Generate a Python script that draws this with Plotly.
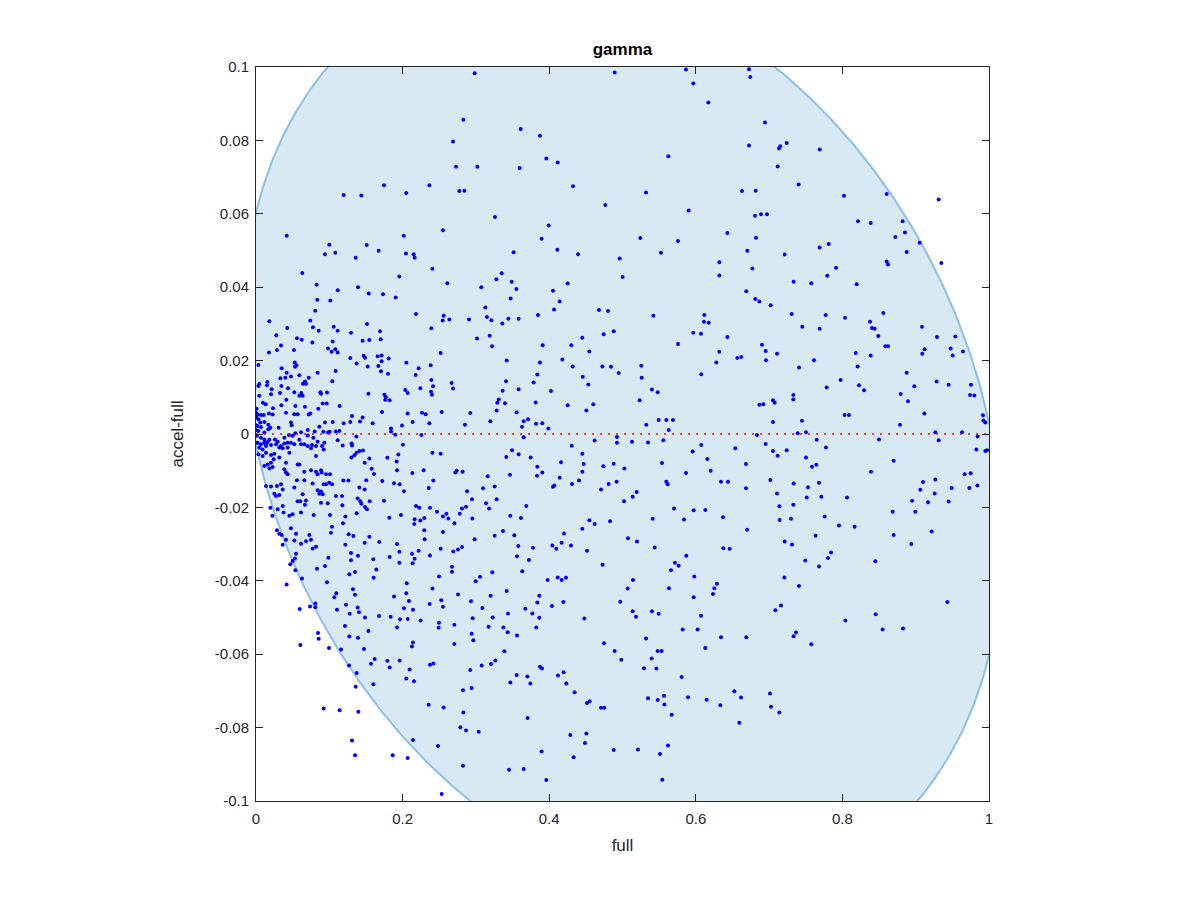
import numpy as np
import plotly.graph_objects as go

# ---- data: (full, accel-full) pairs, grouped by region ----
top_left = [
    (0.1746, 0.0678), (0.1196, 0.0651), (0.1437, 0.0650), (0.2050, 0.0657), (0.0419, 0.0540),
    (0.2015, 0.0540), (0.1000, 0.0516), (0.1510, 0.0515), (0.0941, 0.0490), (0.1082, 0.0494),
    (0.1674, 0.0499), (0.1360, 0.0480), (0.2046, 0.0492), (0.2151, 0.0490), (0.2165, 0.0480),
    (0.0632, 0.0439), (0.1955, 0.0429), (0.0828, 0.0407), (0.1115, 0.0392), (0.1392, 0.0400),
    (0.1538, 0.0383), (0.1733, 0.0381), (0.1906, 0.0372), (0.0836, 0.0366), (0.1014, 0.0364),
]
dense_upper = [
    (0.0809, 0.0336), (0.0182, 0.0307), (0.0741, 0.0309), (0.0778, 0.0291), (0.0855, 0.0281),
    (0.1060, 0.0292), (0.1114, 0.0281), (0.0427, 0.0289), (0.0277, 0.0269), (0.0559, 0.0261),
    (0.0623, 0.0257), (0.0341, 0.0241), (0.0518, 0.0229), (0.0177, 0.0222), (0.0286, 0.0229),
    (0.0769, 0.0249), (0.1046, 0.0252), (0.0982, 0.0233), (0.1032, 0.0224), (0.1114, 0.0222),
    (0.1082, 0.0231), (0.0032, 0.0188), (0.0528, 0.0195), (0.0550, 0.0187), (0.0532, 0.0183),
    (0.0350, 0.0179), (0.0418, 0.0167), (0.0400, 0.0153), (0.0332, 0.0152), (0.0477, 0.0157),
    (0.0591, 0.0160), (0.0719, 0.0153), (0.0668, 0.0143), (0.0641, 0.0137), (0.0682, 0.0137),
    (0.0841, 0.0167), (0.1087, 0.0172), (0.1041, 0.0144), (0.0155, 0.0142), (0.0045, 0.0136),
    (0.0032, 0.0131), (0.0150, 0.0133), (0.0214, 0.0122), (0.0346, 0.0131), (0.0437, 0.0125),
    (0.0523, 0.0114), (0.0205, 0.0108), (0.0327, 0.0112), (0.0618, 0.0112), (0.0637, 0.0104),
    (0.0591, 0.0104), (0.0878, 0.0114), (0.0887, 0.0110), (0.0969, 0.0113), (0.0045, 0.0104),
    (0.0414, 0.0093), (0.0095, 0.0085), (0.0132, 0.0081), (0.0009, 0.0069), (0.0232, 0.0070),
    (0.0346, 0.0078), (0.0537, 0.0076), (0.0668, 0.0074), (0.0910, 0.0083), (0.0964, 0.0083),
    (0.1141, 0.0076), (0.0000, 0.0058), (0.0023, 0.0053), (0.0068, 0.0052), (0.0105, 0.0052),
    (0.0177, 0.0056), (0.0227, 0.0053), (0.0005, 0.0045), (0.0032, 0.0040), (0.0409, 0.0058),
    (0.0523, 0.0054), (0.0568, 0.0054), (0.0719, 0.0053), (0.0741, 0.0056), (0.0850, 0.0069),
    (0.0059, 0.0031), (0.0114, 0.0033), (0.0477, 0.0031), (0.0487, 0.0024), (0.0309, 0.0017),
    (0.0000, 0.0024), (0.0023, 0.0022), (0.0068, 0.0019), (0.0168, 0.0025), (0.0000, 0.0011),
    (0.0032, 0.0008), (0.0114, 0.0004), (0.0168, 0.0013), (0.0196, 0.0017), (0.1046, 0.0033),
    (0.0941, 0.0031), (0.0864, 0.0020), (0.0705, 0.0011), (0.0800, 0.0007), (0.0614, 0.0005),
    (0.0537, 0.0002), (0.0450, -0.0003), (0.0919, 0.0006), (0.0982, 0.0004), (0.1005, 0.0006),
    (0.1087, 0.0007), (0.1137, 0.0008), (0.0014, -0.0005), (0.0068, -0.0010), (0.0114, -0.0015),
    (0.0182, -0.0016), (0.0259, -0.0015), (0.0296, -0.0021), (0.0387, -0.0010), (0.0500, -0.0005),
    (0.0432, -0.0024), (0.0523, -0.0028), (0.0591, -0.0016), (0.0782, -0.0010), (0.0705, -0.0004),
    (0.0841, -0.0021), (0.0659, -0.0028), (0.0932, -0.0024), (0.1114, -0.0017), (0.0764, -0.0030),
    (0.0136, -0.0028), (0.0000, -0.0024),
]
dense_lower = [
    (0.0023, -0.0024), (0.0068, -0.0028), (0.0114, -0.0024), (0.0159, -0.0022), (0.0045, -0.0037),
    (0.0091, -0.0042), (0.0136, -0.0033), (0.0205, -0.0030), (0.0273, -0.0028), (0.0341, -0.0033),
    (0.0387, -0.0026), (0.0477, -0.0024), (0.0614, -0.0028), (0.0705, -0.0033), (0.0750, -0.0039),
    (0.0819, -0.0033), (0.0900, -0.0033), (0.0923, -0.0042), (0.0819, -0.0060), (0.0032, -0.0055),
    (0.0091, -0.0060), (0.0136, -0.0051), (0.0205, -0.0057), (0.0250, -0.0054), (0.0318, -0.0037),
    (0.0364, -0.0039), (0.0432, -0.0037), (0.0455, -0.0051), (0.0318, -0.0064), (0.0114, -0.0087),
    (0.0159, -0.0083), (0.0205, -0.0078), (0.0227, -0.0090), (0.0182, -0.0094), (0.0241, -0.0069),
    (0.0409, -0.0078), (0.0568, -0.0083), (0.0591, -0.0083), (0.0387, -0.0096), (0.0409, -0.0105),
    (0.0432, -0.0110), (0.0659, -0.0103), (0.0750, -0.0099), (0.0819, -0.0103), (0.0841, -0.0110),
    (0.0887, -0.0099), (0.0896, -0.0105), (0.0955, -0.0110), (0.1010, -0.0110), (0.0559, -0.0126),
    (0.0773, -0.0135), (0.0659, -0.0126), (0.0923, -0.0137), (0.0955, -0.0137), (0.1000, -0.0133),
    (0.1037, -0.0137), (0.0136, -0.0142), (0.0205, -0.0143), (0.0286, -0.0142), (0.0341, -0.0137),
    (0.0364, -0.0151), (0.0523, -0.0146), (0.0250, -0.0163), (0.0273, -0.0169), (0.0318, -0.0166),
    (0.0841, -0.0153), (0.0864, -0.0163), (0.0910, -0.0164), (0.0887, -0.0157), (0.1091, -0.0169),
    (0.0637, -0.0164), (0.0568, -0.0183), (0.0605, -0.0183), (0.0682, -0.0181), (0.0668, -0.0193),
    (0.0887, -0.0187), (0.0978, -0.0189), (0.0196, -0.0201), (0.0296, -0.0205), (0.0364, -0.0196),
    (0.0377, -0.0214), (0.0500, -0.0219), (0.0455, -0.0223), (0.0614, -0.0214), (0.0787, -0.0221),
    (0.1010, -0.0221), (0.0223, -0.0223), (0.1037, -0.0253), (0.1023, -0.0269), (0.0477, -0.0257),
    (0.0286, -0.0262), (0.0318, -0.0272), (0.0350, -0.0275), (0.0546, -0.0272), (0.0682, -0.0292),
    (0.0614, -0.0299), (0.0750, -0.0288), (0.0728, -0.0275), (0.0409, -0.0288), (0.0523, -0.0290),
    (0.0364, -0.0302), (0.0819, -0.0307), (0.0773, -0.0312), (0.0546, -0.0326), (0.0532, -0.0339),
    (0.0500, -0.0346), (0.0468, -0.0355), (0.0987, -0.0337), (0.0832, -0.0367), (0.0941, -0.0360),
]
left_middle = [
    (0.2183, 0.0327), (0.1296, 0.0276), (0.1514, 0.0300), (0.1692, 0.0280), (0.1455, 0.0254),
    (0.1546, 0.0256), (0.1701, 0.0258), (0.1287, 0.0207), (0.1373, 0.0192), (0.1469, 0.0213),
    (0.1487, 0.0208), (0.1523, 0.0184), (0.1660, 0.0212), (0.1714, 0.0214), (0.1669, 0.0185),
    (0.1714, 0.0198), (0.1705, 0.0171), (0.1810, 0.0206), (0.1801, 0.0164), (0.2051, 0.0194),
    (0.2219, 0.0179), (0.2178, 0.0161), (0.2242, 0.0125), (0.1533, 0.0110), (0.1751, 0.0107),
    (0.1773, 0.0100), (0.1764, 0.0093), (0.1823, 0.0092), (0.2037, 0.0120), (0.2069, 0.0112),
    (0.1310, 0.0049), (0.1455, 0.0045), (0.1196, 0.0029), (0.1287, 0.0033), (0.1419, 0.0034),
    (0.1592, 0.0029), (0.1719, 0.0060), (0.2069, 0.0056), (0.2137, 0.0033), (0.2265, 0.0058),
    (0.1992, 0.0023), (0.1842, 0.0015), (0.1842, 0.0007), (0.1369, -0.0007), (0.1901, -0.0002),
    (0.2256, -0.0003), (0.1182, -0.0031), (0.1305, -0.0026), (0.1310, -0.0031), (0.2005, -0.0029),
    (0.1301, -0.0064), (0.1342, -0.0058), (0.1373, -0.0051), (0.1410, -0.0046), (0.1460, -0.0045),
    (0.1483, -0.0078), (0.1546, -0.0067), (0.1578, -0.0095), (0.1610, -0.0109), (0.1792, -0.0065),
    (0.1919, -0.0075), (0.1942, -0.0056), (0.1924, -0.0099), (0.2133, -0.0106), (0.2287, -0.0099),
    (0.1191, -0.0127), (0.1260, -0.0127), (0.1505, -0.0126), (0.1723, -0.0128), (0.1883, -0.0134),
    (0.1960, -0.0137), (0.2019, -0.0156), (0.1410, -0.0146), (0.1483, -0.0151), (0.1173, -0.0169),
    (0.1387, -0.0176), (0.1423, -0.0183), (0.1437, -0.0190), (0.1487, -0.0199), (0.1514, -0.0205),
    (0.1551, -0.0183), (0.1746, -0.0182), (0.1178, -0.0194), (0.2183, -0.0196), (0.2228, -0.0201),
    (0.1373, -0.0216), (0.1819, -0.0228), (0.1978, -0.0221), (0.2164, -0.0232), (0.2160, -0.0245),
    (0.2242, -0.0236), (0.2296, -0.0229), (0.1219, -0.0225), (0.1187, -0.0243), (0.1264, -0.0273),
    (0.1328, -0.0278), (0.1546, -0.0280), (0.1682, -0.0294), (0.1219, -0.0302), (0.1483, -0.0296),
    (0.1924, -0.0300), (0.2219, -0.0318), (0.2296, -0.0262), (0.1296, -0.0324), (0.1296, -0.0344),
    (0.1392, -0.0332), (0.1601, -0.0341), (0.1823, -0.0335), (0.1956, -0.0321), (0.1956, -0.0351),
    (0.2128, -0.0326), (0.2164, -0.0340), (0.2137, -0.0352), (0.1641, -0.0369), (0.1351, -0.0376),
    (0.1273, -0.0382),
]
bottom_left = [
    (0.0537, -0.0371), (0.1605, -0.0392), (0.0628, -0.0394), (0.0969, -0.0404), (0.0418, -0.0410),
    (0.2056, -0.0407), (0.1323, -0.0423), (0.1096, -0.0434), (0.1069, -0.0445), (0.1351, -0.0438),
    (0.1883, -0.0443), (0.2051, -0.0434), (0.2087, -0.0455), (0.0809, -0.0462), (0.0737, -0.0470),
    (0.0809, -0.0472), (0.0596, -0.0477), (0.1105, -0.0479), (0.1228, -0.0465), (0.1387, -0.0473),
    (0.1405, -0.0486), (0.1278, -0.0490), (0.1487, -0.0500), (0.1678, -0.0496), (0.1837, -0.0498),
    (0.1965, -0.0505), (0.2069, -0.0504), (0.2142, -0.0479), (0.2019, -0.0475), (0.2246, -0.0508),
    (0.1214, -0.0523), (0.1924, -0.0527), (0.1533, -0.0537), (0.0846, -0.0542), (0.0855, -0.0558),
    (0.1273, -0.0552), (0.1392, -0.0555), (0.2142, -0.0568), (0.2128, -0.0579), (0.0605, -0.0575),
    (0.0996, -0.0583), (0.1160, -0.0587), (0.1473, -0.0586), (0.1619, -0.0613), (0.1569, -0.0626),
    (0.1792, -0.0618), (0.1824, -0.0636), (0.1960, -0.0617), (0.1269, -0.0631), (0.1373, -0.0651),
    (0.2096, -0.0642), (0.2051, -0.0666), (0.2156, -0.0674), (0.1360, -0.0689), (0.1601, -0.0682),
    (0.0923, -0.0748), (0.1141, -0.0753), (0.1396, -0.0757), (0.1310, -0.0835), (0.2142, -0.0834),
    (0.1351, -0.0875), (0.1865, -0.0875), (0.2069, -0.0883),
]
centre_upper = [
    (0.2983, 0.0983), (0.2829, 0.0856), (0.3611, 0.0831), (0.3874, 0.0813), (0.2688, 0.0797),
    (0.2729, 0.0728), (0.3020, 0.0728), (0.3597, 0.0725), (0.3961, 0.0751), (0.4116, 0.0740),
    (0.2365, 0.0678), (0.2774, 0.0662), (0.2842, 0.0663), (0.4325, 0.0675), (0.4766, 0.0624),
    (0.3261, 0.0591), (0.2551, 0.0555), (0.3993, 0.0568), (0.3897, 0.0532), (0.3515, 0.0495),
    (0.4111, 0.0502), (0.4393, 0.0490), (0.2406, 0.0450), (0.3352, 0.0438), (0.3279, 0.0422),
    (0.3488, 0.0415), (0.3552, 0.0395), (0.2610, 0.0411), (0.3074, 0.0400), (0.3474, 0.0369),
    (0.4052, 0.0390), (0.4143, 0.0361), (0.4252, 0.0410), (0.3129, 0.0345), (0.2560, 0.0322),
    (0.2547, 0.0309), (0.2638, 0.0312), (0.2906, 0.0312), (0.3151, 0.0319), (0.3211, 0.0310),
    (0.3361, 0.0301), (0.3442, 0.0314), (0.3583, 0.0314), (0.3847, 0.0324), (0.4066, 0.0339),
    (0.4679, 0.0338), (0.2392, 0.0288), (0.3015, 0.0260), (0.3188, 0.0268), (0.3220, 0.0239),
    (0.3911, 0.0242), (0.4302, 0.0242), (0.4452, 0.0262), (0.4743, 0.0272), (0.2519, 0.0221),
    (0.3420, 0.0200), (0.3874, 0.0195), (0.4179, 0.0203), (0.4320, 0.0184), (0.4548, 0.0225),
    (0.4725, 0.0184), (0.2383, 0.0187), (0.2392, 0.0147), (0.2415, 0.0130), (0.2388, 0.0115),
    (0.2401, 0.0107), (0.2669, 0.0139), (0.2688, 0.0124), (0.3411, 0.0144), (0.3365, 0.0118),
    (0.3583, 0.0122), (0.3838, 0.0162), (0.3788, 0.0140), (0.4025, 0.0117), (0.4457, 0.0156),
    (0.4534, 0.0135), (0.3311, 0.0094), (0.3292, 0.0085), (0.3397, 0.0084), (0.3815, 0.0086),
    (0.4252, 0.0078), (0.4507, 0.0064), (0.4602, 0.0081), (0.2533, 0.0060), (0.2924, 0.0057),
    (0.3283, 0.0064), (0.3556, 0.0059), (0.2315, 0.0054), (0.2365, 0.0029), (0.2851, 0.0025),
    (0.3197, 0.0035), (0.3652, 0.0035), (0.3711, 0.0040), (0.3629, 0.0020), (0.3820, 0.0028),
    (0.3906, 0.0029), (0.3988, 0.0015),
]
centre_lower = [
    (0.3652, -0.0009), (0.2406, -0.0051), (0.2519, -0.0054), (0.3493, -0.0044), (0.3415, -0.0063),
    (0.3583, -0.0055), (0.3747, -0.0064), (0.4307, -0.0032), (0.4452, -0.0054), (0.4620, -0.0018),
    (0.2419, -0.0127), (0.2356, -0.0147), (0.2719, -0.0105), (0.2738, -0.0100), (0.2819, -0.0103),
    (0.3161, -0.0115), (0.3465, -0.0111), (0.3838, -0.0089), (0.3906, -0.0105), (0.3834, -0.0114),
    (0.4161, -0.0077), (0.4470, -0.0082), (0.4452, -0.0103), (0.4739, -0.0088), (0.4143, -0.0119),
    (0.4311, -0.0136), (0.4407, -0.0127), (0.4070, -0.0140), (0.4052, -0.0144), (0.4707, -0.0151),
    (0.2879, -0.0156), (0.3097, -0.0148), (0.3256, -0.0143), (0.2947, -0.0178), (0.3283, -0.0178),
    (0.3138, -0.0189), (0.3179, -0.0203), (0.3688, -0.0196), (0.2374, -0.0201), (0.2469, -0.0212),
    (0.2551, -0.0225), (0.2597, -0.0217), (0.2624, -0.0230), (0.2779, -0.0217), (0.2810, -0.0203),
    (0.2865, -0.0198), (0.2951, -0.0230), (0.2706, -0.0243), (0.3470, -0.0223), (0.3615, -0.0229),
    (0.4452, -0.0258), (0.4548, -0.0235), (0.4620, -0.0245), (0.2551, -0.0267), (0.2301, -0.0287),
    (0.2983, -0.0287), (0.3256, -0.0277), (0.3370, -0.0264), (0.3524, -0.0276), (0.3579, -0.0305),
    (0.3779, -0.0310), (0.4043, -0.0304), (0.4097, -0.0313), (0.4170, -0.0296), (0.4202, -0.0271),
    (0.4297, -0.0304), (0.4516, -0.0318), (0.2519, -0.0313), (0.2374, -0.0331), (0.2692, -0.0320),
    (0.2756, -0.0315), (0.2810, -0.0308), (0.3561, -0.0333), (0.3724, -0.0343), (0.4729, -0.0356),
    (0.2674, -0.0362), (0.2674, -0.0375), (0.2497, -0.0388), (0.2997, -0.0401), (0.3056, -0.0389),
    (0.3224, -0.0377), (0.3633, -0.0374), (0.3979, -0.0398), (0.4116, -0.0391), (0.4170, -0.0398),
    (0.4229, -0.0392), (0.2406, -0.0421), (0.2756, -0.0437), (0.2528, -0.0453), (0.2551, -0.0471),
    (0.2369, -0.0463), (0.2933, -0.0456), (0.3088, -0.0474), (0.3201, -0.0441), (0.3420, -0.0428),
    (0.3438, -0.0489), (0.3674, -0.0476), (0.3770, -0.0489), (0.3838, -0.0459), (0.3865, -0.0441),
    (0.3865, -0.0501), (0.3824, -0.0527), (0.4038, -0.0469), (0.4193, -0.0458), (0.4479, -0.0503),
    (0.2497, -0.0514), (0.2492, -0.0528), (0.2706, -0.0520), (0.2956, -0.0502), (0.3229, -0.0500),
    (0.3174, -0.0525), (0.3374, -0.0527), (0.3433, -0.0540), (0.3561, -0.0549), (0.2942, -0.0544),
    (0.2965, -0.0562), (0.2706, -0.0572), (0.3388, -0.0592), (0.4748, -0.0570), (0.2374, -0.0629),
    (0.2419, -0.0625), (0.2924, -0.0643), (0.3079, -0.0631), (0.3206, -0.0627), (0.3265, -0.0617),
    (0.3874, -0.0634), (0.3902, -0.0639), (0.3556, -0.0657), (0.3470, -0.0677), (0.3702, -0.0661),
    (0.3743, -0.0680), (0.4120, -0.0658), (0.4197, -0.0649), (0.4234, -0.0680), (0.4347, -0.0704),
    (0.2824, -0.0698), (0.2942, -0.0692), (0.2356, -0.0738), (0.2560, -0.0745), (0.2829, -0.0759),
    (0.4516, -0.0733), (0.4552, -0.0728), (0.4707, -0.0746), (0.4752, -0.0746), (0.3706, -0.0774),
    (0.2788, -0.0799), (0.2865, -0.0808), (0.3038, -0.0811), (0.4288, -0.0820), (0.4507, -0.0816),
    (0.4488, -0.0842), (0.2483, -0.0850), (0.2824, -0.0904), (0.3452, -0.0915), (0.3652, -0.0913),
    (0.3897, -0.0865), (0.4334, -0.0881), (0.3961, -0.0943), (0.2533, -0.0981),
]
right_centre_upper = [
    (0.4893, 0.0985), (0.5866, 0.0993), (0.5966, 0.0955), (0.6171, 0.0903), (0.6726, 0.0994),
    (0.6744, 0.0973), (0.6944, 0.0849), (0.6726, 0.0786), (0.7135, 0.0778), (0.7153, 0.0784),
    (0.7240, 0.0793), (0.7117, 0.0729), (0.5625, 0.0757), (0.5321, 0.0658), (0.5903, 0.0609),
    (0.6630, 0.0662), (0.6817, 0.0663), (0.6808, 0.0595), (0.6890, 0.0599), (0.6971, 0.0599),
    (0.5243, 0.0534), (0.5757, 0.0526), (0.6430, 0.0548), (0.6821, 0.0535), (0.6703, 0.0499),
    (0.7212, 0.0489), (0.5525, 0.0494), (0.4961, 0.0478), (0.5002, 0.0428), (0.6321, 0.0468),
    (0.6321, 0.0432), (0.6771, 0.0451), (0.7335, 0.0415), (0.6689, 0.0389), (0.6812, 0.0368),
    (0.6867, 0.0361), (0.7021, 0.0351), (0.7308, 0.0327), (0.4802, 0.0335), (0.5421, 0.0322),
    (0.6116, 0.0324), (0.6112, 0.0306), (0.6176, 0.0303), (0.5966, 0.0276), (0.6071, 0.0273),
    (0.6430, 0.0264), (0.4880, 0.0280), (0.5757, 0.0245), (0.6321, 0.0224), (0.6280, 0.0195),
    (0.6567, 0.0207), (0.6621, 0.0210), (0.6903, 0.0243), (0.6953, 0.0226), (0.7108, 0.0219),
    (0.6958, 0.0201), (0.4843, 0.0183), (0.4948, 0.0166), (0.5257, 0.0186), (0.5262, 0.0153),
    (0.6075, 0.0163), (0.5402, 0.0121), (0.5480, 0.0114), (0.5234, 0.0092), (0.7331, 0.0106),
    (0.7331, 0.0094), (0.6867, 0.0080), (0.6921, 0.0081), (0.7053, 0.0092), (0.7076, 0.0085),
    (0.5325, 0.0025), (0.5493, 0.0038), (0.5598, 0.0038), (0.5689, 0.0038), (0.5630, 0.0011),
    (0.7053, 0.0033),
]
right_centre_lower = [
    (0.4925, -0.0008), (0.4925, -0.0024), (0.5130, -0.0021), (0.5348, -0.0023), (0.5557, -0.0017),
    (0.6835, -0.0003), (0.5957, -0.0048), (0.6075, -0.0030), (0.6157, -0.0068), (0.6203, -0.0100),
    (0.6539, -0.0039), (0.6953, -0.0027), (0.7053, -0.0046), (0.7117, -0.0059), (0.7240, -0.0044),
    (0.4880, -0.0081), (0.5025, -0.0094), (0.5539, -0.0079), (0.5866, -0.0106), (0.6685, -0.0082),
    (0.4811, -0.0136), (0.4920, -0.0130), (0.5598, -0.0130), (0.5616, -0.0137), (0.6344, -0.0130),
    (0.6439, -0.0130), (0.6685, -0.0148), (0.7017, -0.0125), (0.7108, -0.0162), (0.7335, -0.0135),
    (0.5021, -0.0183), (0.5139, -0.0171), (0.5193, -0.0158), (0.5703, -0.0203), (0.5971, -0.0208),
    (0.6130, -0.0207), (0.5839, -0.0233), (0.5412, -0.0231), (0.4830, -0.0238), (0.6371, -0.0227),
    (0.6699, -0.0261), (0.7140, -0.0197), (0.7144, -0.0234), (0.7299, -0.0231), (0.7331, -0.0193),
    (0.5075, -0.0284), (0.5198, -0.0293), (0.5439, -0.0309), (0.6376, -0.0311), (0.6462, -0.0313),
    (0.7212, -0.0293), (0.7312, -0.0301), (0.5871, -0.0332), (0.5716, -0.0351), (0.5766, -0.0359),
    (0.5662, -0.0371), (0.5980, -0.0388), (0.5143, -0.0398), (0.5070, -0.0421), (0.5634, -0.0420),
    (0.5971, -0.0445), (0.6235, -0.0436), (0.6253, -0.0420), (0.6289, -0.0408), (0.7208, -0.0391),
    (0.4970, -0.0457), (0.5139, -0.0483), (0.5184, -0.0498), (0.5402, -0.0483), (0.5493, -0.0490),
    (0.6071, -0.0495), (0.5821, -0.0533), (0.6025, -0.0533), (0.7085, -0.0480), (0.7162, -0.0467),
    (0.5321, -0.0557), (0.6344, -0.0554), (0.6689, -0.0554), (0.7335, -0.0551), (0.7367, -0.0541),
    (0.4893, -0.0591), (0.4984, -0.0615), (0.5480, -0.0591), (0.5534, -0.0591), (0.5398, -0.0612),
    (0.5293, -0.0638), (0.5462, -0.0639), (0.6130, -0.0583), (0.5807, -0.0662), (0.5348, -0.0720),
    (0.5480, -0.0725), (0.5566, -0.0713), (0.5571, -0.0737), (0.5671, -0.0765), (0.5894, -0.0717),
    (0.6148, -0.0724), (0.6335, -0.0739), (0.6526, -0.0701), (0.6617, -0.0718), (0.6594, -0.0787),
    (0.7012, -0.0707), (0.7026, -0.0743), (0.7140, -0.0759), (0.4880, -0.0861), (0.5211, -0.0860),
    (0.5512, -0.0872), (0.5621, -0.0849), (0.5543, -0.0942),
]
right_upper = [
    (0.7690, 0.0775), (0.7403, 0.0680), (0.8022, 0.0649), (0.8604, 0.0654), (0.9313, 0.0639),
    (0.8213, 0.0580), (0.8386, 0.0575), (0.8822, 0.0580), (0.8854, 0.0549), (0.8722, 0.0537),
    (0.9054, 0.0521), (0.8877, 0.0496), (0.7690, 0.0508), (0.7813, 0.0518), (0.7913, 0.0453),
    (0.7794, 0.0431), (0.8604, 0.0470), (0.8622, 0.0462), (0.9350, 0.0466), (0.7576, 0.0411),
    (0.8195, 0.0408), (0.7772, 0.0324), (0.8036, 0.0317), (0.8558, 0.0330), (0.8377, 0.0306),
    (0.8404, 0.0289), (0.8440, 0.0287), (0.8490, 0.0267), (0.8586, 0.0239), (0.8622, 0.0239),
    (0.7453, 0.0292), (0.7690, 0.0287), (0.8181, 0.0221), (0.8386, 0.0214), (0.8208, 0.0184),
    (0.7613, 0.0201), (0.7408, 0.0181), (0.9086, 0.0292), (0.9291, 0.0264), (0.9541, 0.0266),
    (0.9122, 0.0231), (0.9090, 0.0219), (0.9477, 0.0233), (0.9505, 0.0214), (0.9645, 0.0225),
    (0.8877, 0.0167), (0.7976, 0.0147), (0.7785, 0.0127), (0.8226, 0.0133), (0.8295, 0.0119),
    (0.8981, 0.0130), (0.9286, 0.0143), (0.9450, 0.0134), (0.9754, 0.0134), (0.9741, 0.0106),
    (0.9800, 0.0105), (0.8795, 0.0109), (0.8895, 0.0089), (0.8031, 0.0052), (0.8090, 0.0052),
    (0.9118, 0.0056), (0.7449, 0.0036), (0.8786, 0.0025), (0.9918, 0.0051), (0.9923, 0.0037),
    (0.9950, 0.0031),
]
right_lower = [
    (0.7390, 0.0002), (0.7503, 0.0005), (0.7649, -0.0016), (0.7776, -0.0037), (0.8499, -0.0015),
    (0.9268, 0.0005), (0.9313, -0.0017), (0.9632, 0.0005), (0.9845, -0.0007), (0.9827, -0.0042),
    (0.9950, -0.0046), (0.9973, -0.0044), (0.7503, -0.0064), (0.7585, -0.0089), (0.7644, -0.0084),
    (0.8390, -0.0103), (0.8699, -0.0073), (0.7531, -0.0145), (0.7681, -0.0133), (0.7513, -0.0173),
    (0.7713, -0.0171), (0.8063, -0.0173), (0.7758, -0.0225), (0.7954, -0.0249), (0.8167, -0.0253),
    (0.8686, -0.0212), (0.8699, -0.0275), (0.8950, -0.0182), (0.8995, -0.0212), (0.9063, -0.0152),
    (0.9100, -0.0131), (0.9168, -0.0186), (0.9259, -0.0162), (0.9268, -0.0124), (0.9450, -0.0184),
    (0.9491, -0.0147), (0.9668, -0.0110), (0.9750, -0.0107), (0.9732, -0.0147), (0.9841, -0.0140),
    (0.9218, -0.0266), (0.8941, -0.0300), (0.7635, -0.0277), (0.7494, -0.0345), (0.7804, -0.0338),
    (0.7845, -0.0323), (0.7681, -0.0361), (0.8449, -0.0347), (0.7408, -0.0414), (0.9432, -0.0458),
    (0.8040, -0.0508), (0.8454, -0.0491), (0.8549, -0.0533), (0.8827, -0.0530), (0.7576, -0.0573),
]

regions = [top_left, dense_upper, dense_lower, left_middle, bottom_left, centre_upper,
           centre_lower, right_centre_upper, right_centre_lower, right_upper, right_lower]
full = [p[0] for r in regions for p in r]
accel_full = [p[1] for r in regions for p in r]

x_ticks = [0, 0.2, 0.4, 0.6, 0.8, 1]
x_labels = ["0", "0.2", "0.4", "0.6", "0.8", "1"]
y_ticks = [-0.1, -0.08, -0.06, -0.04, -0.02, 0, 0.02, 0.04, 0.06, 0.08, 0.1]
y_labels = ["-0.1", "-0.08", "-0.06", "-0.04", "-0.02", "0", "0.02", "0.04", "0.06", "0.08", "0.1"]

# ---- ellipse region (quadratic form in u = x - cx, v = y / yscale) ----
ell_cx, ell_cy, ell_yscale = 0.5, 0.0, 0.1
ell_P, ell_Q, ell_R = 3.95, 0.768, 0.670
M = np.array([[ell_P, ell_Q / 2], [ell_Q / 2, ell_R]])
w, V = np.linalg.eigh(M)
t = np.linspace(0, 2 * np.pi, 721)
circ = np.vstack([np.cos(t), np.sin(t)])
uv = V @ np.diag(1 / np.sqrt(w)) @ circ
ell_x = ell_cx + uv[0]
ell_y = ell_cy + ell_yscale * uv[1]

AX = "rgb(38,38,38)"
FONT = "Liberation Sans, Arial, Helvetica, sans-serif"

fig = go.Figure()
fig.add_trace(go.Scatter(
    x=ell_x, y=ell_y, mode="lines", fill="toself",
    fillcolor="rgb(217,233,244)", line=dict(color="rgb(140,192,226)", width=2),
    hoverinfo="skip", showlegend=False))
fig.add_trace(go.Scatter(
    x=full, y=accel_full, mode="markers",
    marker=dict(color="rgb(0,0,255)", size=4, line=dict(width=0)),
    showlegend=False))
fig.add_trace(go.Scatter(
    x=[0, 1], y=[0, 0], mode="lines",
    line=dict(color="rgb(255,0,0)", width=1.5, dash="2px,6px"),
    showlegend=False))

axis_common = dict(
    showline=True, linecolor=AX, linewidth=1, mirror="ticks",
    ticks="inside", ticklen=7, tickwidth=1, tickcolor=AX,
    showgrid=False, zeroline=False,
    tickfont=dict(family=FONT, size=15, color=AX),
)
fig.update_layout(
    width=1200, height=900,
    margin=dict(l=248, r=219, t=59, b=107),
    paper_bgcolor="white", plot_bgcolor="white",
    font=dict(family=FONT, color=AX),
    title=dict(text="<b>gamma</b>", x=0.5, xref="paper", xanchor="center",
               y=1 - 41 / 900, yref="container", yanchor="middle",
               font=dict(family=FONT, size=17, color="black")),
    xaxis=dict(range=[0, 1], tickvals=x_ticks, ticktext=x_labels, ticklabelstandoff=4,
               title=dict(text="full", font=dict(family=FONT, size=17, color=AX), standoff=13),
               **axis_common),
    yaxis=dict(range=[-0.1, 0.1], tickvals=y_ticks, ticktext=y_labels, ticklabelstandoff=3,
               title=dict(text="accel-full", font=dict(family=FONT, size=17, color=AX), standoff=26),
               **axis_common),
)
fig.write_html("out.html")
